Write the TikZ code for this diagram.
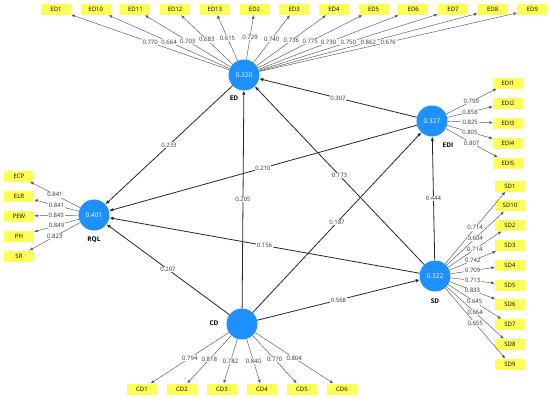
\documentclass[tikz,border=0pt]{standalone}
\usepackage{fontspec}
\setmainfont{Open Sans}
\usetikzlibrary{arrows.meta,positioning}
\definecolor{lvblue}{HTML}{1E90FF}
\definecolor{indyellow}{HTML}{FFFF55}
\definecolor{loadgray}{HTML}{555555}
\tikzset{latent/.style={circle,fill=lvblue,minimum size=31pt,inner sep=0pt,text=white,font=\fontsize{6.5}{7}\selectfont},ind/.style={fill=indyellow,minimum width=30pt,minimum height=11pt,inner sep=0pt,font=\fontsize{6}{7}\selectfont},lvname/.style={font=\bfseries\fontsize{6.5}{7}\selectfont},sarr/.style={-{Latex[length=4pt,width=3.5pt]},draw=black!85,line width=0.8pt},larr/.style={-{Latex[length=3.5pt,width=3pt]},draw=loadgray,line width=0.45pt},coef/.style={fill=white,inner sep=0.6pt,font=\fontsize{6}{7}\selectfont,text=black!80}}

\begin{document}
\begin{tikzpicture}[x=1pt,y=-1pt]
\useasboundingbox (0,0) rectangle (550,399);
% latent variables
\node[latent] (ED) at (244,75) {0.320};
\node[latent] (EDI) at (432,121) {0.327};
\node[latent] (RQL) at (94,215) {0.401};
\node[latent] (SD) at (435,276) {0.322};
\node[latent] (CD) at (242,324) {};
\node[lvname] (EDname) at (234,98) {ED};
\node[lvname] (EDIname) at (448,145) {EDI};
\node[lvname] (RQLname) at (94,240) {RQL};
\node[lvname] (SDname) at (435,301) {SD};
\node[lvname] (CDname) at (214,323) {CD};
% indicators of ED
\node[ind] (ed1) at (56,9.5) {ED1};
\node[ind] (ed10) at (95.7,9.5) {ED10};
\node[ind] (ed11) at (135.4,9.5) {ED11};
\node[ind] (ed12) at (175.1,9.5) {ED12};
\node[ind] (ed13) at (214.8,9.5) {ED13};
\node[ind] (ed2) at (254.5,9.5) {ED2};
\node[ind] (ed3) at (294.2,9.5) {ED3};
\node[ind] (ed4) at (333.9,9.5) {ED4};
\node[ind] (ed5) at (373.6,9.5) {ED5};
\node[ind] (ed6) at (413.3,9.5) {ED6};
\node[ind] (ed7) at (453,9.5) {ED7};
\node[ind] (ed8) at (492.7,9.5) {ED8};
\node[ind] (ed9) at (532.4,9.5) {ED9};
% indicators of EDI
\node[ind] (edi1) at (508,83) {EDI1};
\node[ind] (edi2) at (508,103) {EDI2};
\node[ind] (edi3) at (508,123) {EDI3};
\node[ind] (edi4) at (508,143) {EDI4};
\node[ind] (edi5) at (508,163) {EDI5};
% indicators of SD
\node[ind] (sd1) at (510,186) {SD1};
\node[ind] (sd10) at (510,205.8) {SD10};
\node[ind] (sd2) at (510,225.6) {SD2};
\node[ind] (sd3) at (510,245.4) {SD3};
\node[ind] (sd4) at (510,265.2) {SD4};
\node[ind] (sd5) at (510,285) {SD5};
\node[ind] (sd6) at (510,304.8) {SD6};
\node[ind] (sd7) at (510,324.6) {SD7};
\node[ind] (sd8) at (510,344.4) {SD8};
\node[ind] (sd9) at (510,364.2) {SD9};
% indicators of RQL
\node[ind] (ecp) at (19,176) {ECP};
\node[ind] (elr) at (19,196) {ELR};
\node[ind] (pew) at (19,216) {PEW};
\node[ind] (ph) at (19,236) {PH};
\node[ind] (sr) at (19,256) {SR};
% indicators of CD
\node[ind] (cd1) at (142,389) {CD1};
\node[ind] (cd2) at (182,389) {CD2};
\node[ind] (cd3) at (222,389) {CD3};
\node[ind] (cd4) at (262,389) {CD4};
\node[ind] (cd5) at (302,389) {CD5};
\node[ind] (cd6) at (342,389) {CD6};
% outer loadings
\draw[larr](ED)--node[coef]{0.770}(ed1);
\draw[larr](ED)--node[coef]{0.664}(ed10);
\draw[larr](ED)--node[coef]{0.703}(ed11);
\draw[larr](ED)--node[coef]{0.683}(ed12);
\draw[larr](ED)--node[coef]{0.615}(ed13);
\draw[larr](ED)--node[coef]{0.729}(ed2);
\draw[larr](ED)--node[coef]{0.740}(ed3);
\draw[larr](ED)--node[coef]{0.736}(ed4);
\draw[larr](ED)--node[coef]{0.775}(ed5);
\draw[larr](ED)--node[coef]{0.730}(ed6);
\draw[larr](ED)--node[coef]{0.750}(ed7);
\draw[larr](ED)--node[coef]{0.862}(ed8);
\draw[larr](ED)--node[coef]{0.676}(ed9);
\draw[larr](EDI)--node[coef]{0.799}(edi1);
\draw[larr](EDI)--node[coef]{0.858}(edi2);
\draw[larr](EDI)--node[coef]{0.825}(edi3);
\draw[larr](EDI)--node[coef]{0.805}(edi4);
\draw[larr](EDI)--node[coef]{0.807}(edi5);
\draw[larr](SD)--node[coef]{0.714}(sd1);
\draw[larr](SD)--node[coef]{0.604}(sd10);
\draw[larr](SD)--node[coef]{0.714}(sd2);
\draw[larr](SD)--node[coef]{0.742}(sd3);
\draw[larr](SD)--node[coef]{0.709}(sd4);
\draw[larr](SD)--node[coef]{0.713}(sd5);
\draw[larr](SD)--node[coef]{0.833}(sd6);
\draw[larr](SD)--node[coef]{0.645}(sd7);
\draw[larr](SD)--node[coef]{0.664}(sd8);
\draw[larr](SD)--node[coef]{0.655}(sd9);
\draw[larr](RQL)--node[coef]{0.841}(ecp);
\draw[larr](RQL)--node[coef]{0.841}(elr);
\draw[larr](RQL)--node[coef]{0.843}(pew);
\draw[larr](RQL)--node[coef]{0.849}(ph);
\draw[larr](RQL)--node[coef]{0.823}(sr);
\draw[larr](CD)--node[coef]{0.794}(cd1);
\draw[larr](CD)--node[coef]{0.818}(cd2);
\draw[larr](CD)--node[coef]{0.782}(cd3);
\draw[larr](CD)--node[coef]{0.840}(cd4);
\draw[larr](CD)--node[coef]{0.770}(cd5);
\draw[larr](CD)--node[coef]{0.804}(cd6);
% path coefficients
\draw[sarr](ED)--node[coef]{0.233}(RQL);
\draw[sarr](EDI)--node[coef]{0.307}(ED);
\draw[sarr](EDI)--node[coef]{0.210}(RQL);
\draw[sarr](SD)--node[coef]{0.173}(ED);
\draw[sarr](SD)--node[coef]{0.444}(EDI);
\draw[sarr](SD)--node[coef]{0.156}(RQL);
\draw[sarr](CD)--node[coef]{0.205}(ED);
\draw[sarr](CD)--node[coef]{0.187}(EDI);
\draw[sarr](CD)--node[coef]{0.207}(RQL);
\draw[sarr](CD)--node[coef]{0.568}(SD);
\end{tikzpicture}
\end{document}
